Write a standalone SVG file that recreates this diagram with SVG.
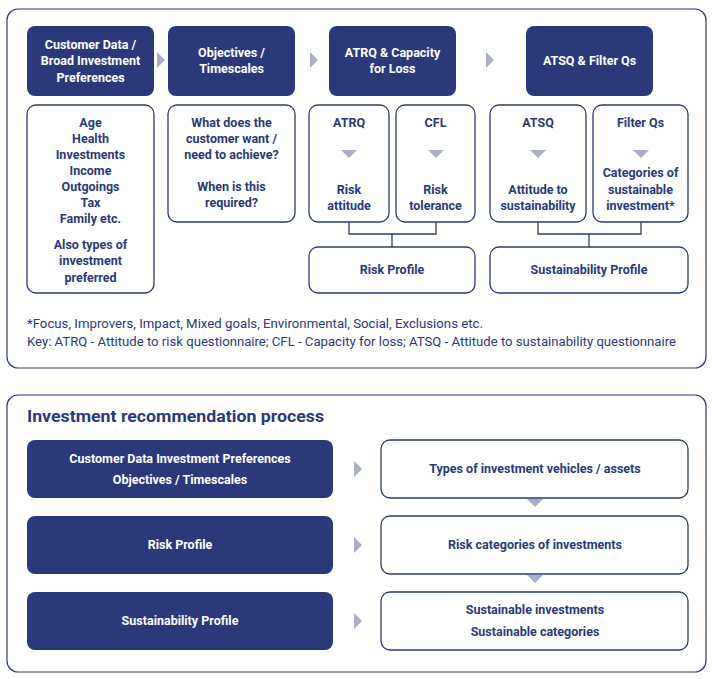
<svg xmlns="http://www.w3.org/2000/svg" width="712" height="679" viewBox="0 0 712 679">
<style>
.frame{fill:#fff;stroke:#2b397b;stroke-width:1.2}
.dark{fill:#2b397b}
.wbox{fill:#fff;stroke:#2b397b;stroke-width:1.3}
.tw{font-family:Roboto,"Liberation Sans",sans-serif;font-weight:bold;font-size:12.5px;fill:#fff;text-anchor:middle}
.tn{font-family:Roboto,"Liberation Sans",sans-serif;font-weight:bold;font-size:12.5px;fill:#2b397b;text-anchor:middle}
.foot{font-family:Roboto,"Liberation Sans",sans-serif;font-size:12.5px;fill:#2b397b}
.title{font-family:Roboto,"Liberation Sans",sans-serif;font-weight:bold;font-size:17px;fill:#2b397b}
.arr{fill:#a9aec8}
.line{fill:none;stroke:#2b397b;stroke-width:1.3}
</style>
<rect width="712" height="679" fill="#fff"/>
<rect class="frame" x="7" y="9" width="699" height="359" rx="11"/>
<rect class="frame" x="7" y="395" width="699" height="277" rx="11"/>

<g id="top-customer">
<rect class="dark" x="27" y="26" width="127" height="70" rx="8"/>
<text class="tw" x="90.5" y="49">Customer Data /</text>
<text class="tw" x="90.5" y="65">Broad Investment</text>
<text class="tw" x="90.5" y="81.5">Preferences</text>
</g>
<g id="top-objectives">
<rect class="dark" x="168" y="26" width="127" height="70" rx="8"/>
<text class="tw" x="231.5" y="57">Objectives /</text>
<text class="tw" x="231.5" y="73">Timescales</text>
</g>
<g id="top-atrq">
<rect class="dark" x="329" y="26" width="127" height="70" rx="8"/>
<text class="tw" x="392.5" y="57">ATRQ &amp; Capacity</text>
<text class="tw" x="392.5" y="73">for Loss</text>
</g>
<g id="top-atsq">
<rect class="dark" x="526" y="26" width="127" height="70" rx="8"/>
<text class="tw" x="589.5" y="65">ATSQ &amp; Filter Qs</text>
</g>

<g id="box-customer-details">
<rect class="wbox" x="27" y="105" width="127" height="188" rx="9"/>
<text class="tn" x="90.5" y="127">Age</text>
<text class="tn" x="90.5" y="143">Health</text>
<text class="tn" x="90.5" y="159">Investments</text>
<text class="tn" x="90.5" y="175">Income</text>
<text class="tn" x="90.5" y="191">Outgoings</text>
<text class="tn" x="90.5" y="207">Tax</text>
<text class="tn" x="90.5" y="223">Family etc.</text>
<text class="tn" x="90.5" y="249">Also types of</text>
<text class="tn" x="90.5" y="265">investment</text>
<text class="tn" x="90.5" y="281.5">preferred</text>
</g>
<g id="box-objectives-details">
<rect class="wbox" x="168" y="105" width="127" height="117" rx="9"/>
<text class="tn" x="231.5" y="127">What does the</text>
<text class="tn" x="231.5" y="143">customer want /</text>
<text class="tn" x="231.5" y="159">need to achieve?</text>
<text class="tn" x="231.5" y="191">When is this</text>
<text class="tn" x="231.5" y="207">required?</text>
</g>
<g id="box-atrq">
<rect class="wbox" x="309" y="105" width="80" height="117" rx="9"/>
<text class="tn" x="349" y="127">ATRQ</text>
<polygon class="arr" points="341,150 357,150 349,158"/>
<text class="tn" x="349" y="194">Risk</text>
<text class="tn" x="349" y="210">attitude</text>
</g>
<g id="box-cfl">
<rect class="wbox" x="396" y="105" width="79" height="117" rx="9"/>
<text class="tn" x="435.5" y="127">CFL</text>
<polygon class="arr" points="428,150 444,150 436,158"/>
<text class="tn" x="435.5" y="194">Risk</text>
<text class="tn" x="435.5" y="210">tolerance</text>
</g>
<g id="box-atsq">
<rect class="wbox" x="490" y="105" width="96" height="117" rx="9"/>
<text class="tn" x="538" y="127">ATSQ</text>
<polygon class="arr" points="530,150 546,150 538,158"/>
<text class="tn" x="538" y="194">Attitude to</text>
<text class="tn" x="538" y="210">sustainability</text>
</g>
<g id="box-filter">
<rect class="wbox" x="593" y="105" width="95" height="117" rx="9"/>
<text class="tn" x="640.5" y="127">Filter Qs</text>
<polygon class="arr" points="633,150 649,150 641,158"/>
<text class="tn" x="640.5" y="177">Categories of</text>
<text class="tn" x="640.5" y="194">sustainable</text>
<text class="tn" x="640.5" y="210">investment*</text>
</g>
<g id="box-risk-profile">
<rect class="wbox" x="309" y="247" width="166" height="46" rx="9"/>
<text class="tn" x="392" y="274">Risk Profile</text>
</g>
<g id="box-sust-profile">
<rect class="wbox" x="490" y="247" width="198" height="46" rx="9"/>
<text class="tn" x="589" y="274">Sustainability Profile</text>
</g>

<g id="connectors">
<polygon class="arr" points="157,52 165,60 157,68"/>
<polygon class="arr" points="310,52 318,60 310,68"/>
<polygon class="arr" points="486,52 494,60 486,68"/>
<path class="line" d="M349,222 V234 H436 V222 M392,234 V247"/>
<path class="line" d="M538,222 V234 H641 V222 M589,234 V247"/>
<polygon class="arr" points="354,461 362,469 354,477"/>
<polygon class="arr" points="354,537 362,545 354,553"/>
<polygon class="arr" points="354,613 362,621 354,629"/>
<polygon class="arr" points="527,499 543,499 535,507"/>
<polygon class="arr" points="527,575 543,575 535,583"/>
</g>

<g id="footnotes">
<text class="foot" x="27" y="328" textLength="456" lengthAdjust="spacingAndGlyphs">*Focus, Improvers, Impact, Mixed goals, Environmental, Social, Exclusions etc.</text>
<text class="foot" x="27" y="346" textLength="649" lengthAdjust="spacingAndGlyphs">Key: ATRQ - Attitude to risk questionnaire; CFL - Capacity for loss; ATSQ - Attitude to sustainability questionnaire</text>
</g>

<text class="title" x="27" y="422" textLength="297" lengthAdjust="spacingAndGlyphs">Investment recommendation process</text>

<g id="bottom-customer">
<rect class="dark" x="27" y="440" width="306" height="58" rx="8"/>
<text class="tw" x="180" y="463">Customer Data Investment Preferences</text>
<text class="tw" x="180" y="484">Objectives / Timescales</text>
</g>
<g id="bottom-risk">
<rect class="dark" x="27" y="516" width="306" height="58" rx="8"/>
<text class="tw" x="180" y="549">Risk Profile</text>
</g>
<g id="bottom-sust">
<rect class="dark" x="27" y="592" width="306" height="58" rx="8"/>
<text class="tw" x="180" y="625">Sustainability Profile</text>
</g>
<g id="bottom-types">
<rect class="wbox" x="381" y="440" width="307" height="58" rx="9"/>
<text class="tn" x="535" y="473">Types of investment vehicles / assets</text>
</g>
<g id="bottom-riskcat">
<rect class="wbox" x="381" y="516" width="307" height="58" rx="9"/>
<text class="tn" x="535" y="549">Risk categories of investments</text>
</g>
<g id="bottom-sustinv">
<rect class="wbox" x="381" y="592" width="307" height="58" rx="9"/>
<text class="tn" x="535" y="614">Sustainable investments</text>
<text class="tn" x="535" y="636">Sustainable categories</text>
</g>
</svg>
